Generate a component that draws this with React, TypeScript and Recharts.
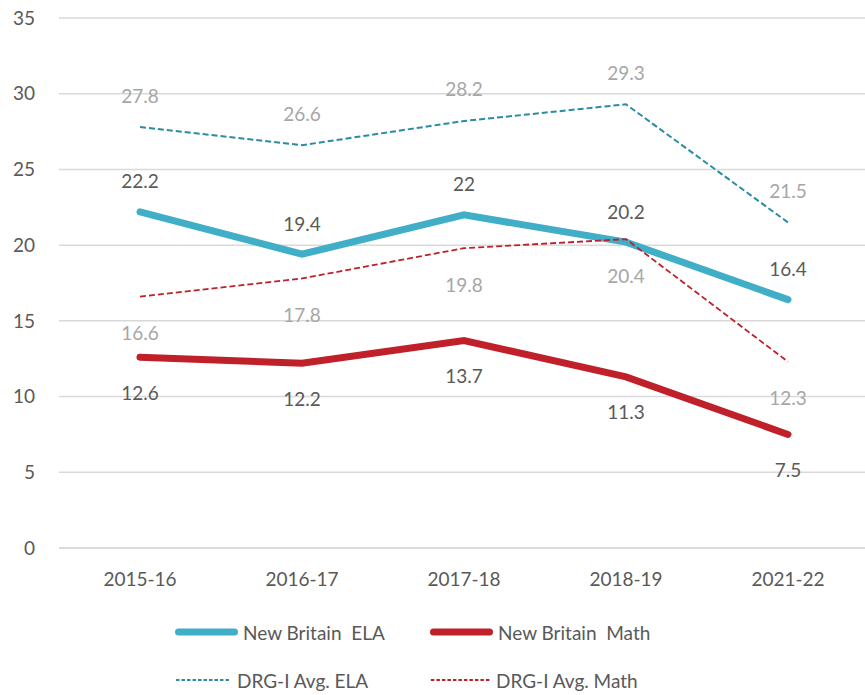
import React from "react"
import { LineChart, Line, XAxis, YAxis, CartesianGrid, LabelList } from "recharts"

const years = ["2015-16", "2016-17", "2017-18", "2018-19", "2021-22"]
const nbEla = [22.2, 19.4, 22, 20.2, 16.4]
const nbMath = [12.6, 12.2, 13.7, 11.3, 7.5]
const drgEla = [27.8, 26.6, 28.2, 29.3, 21.5]
const drgMath = [16.6, 17.8, 19.8, 20.4, 12.3]
const yTicks = [0, 5, 10, 15, 20, 25, 30, 35]

const FONT = "Lato, 'Open Sans', sans-serif"
const DARK = "#595959"
const LIGHT = "#A6A6A6"

const seriesConfig = [
  { key: "nbEla", name: "New Britain  ELA", color: "#41AEC8", width: 7, dash: undefined, labelColor: DARK, dy: -31 },
  { key: "nbMath", name: "New Britain  Math", color: "#C0202A", width: 7, dash: undefined, labelColor: DARK, dy: 35 },
  { key: "drgEla", name: "DRG-I Avg. ELA", color: "#2A8BA3", width: 2, dash: "6 3", labelColor: LIGHT, dy: -32 },
  { key: "drgMath", name: "DRG-I Avg. Math", color: "#C0202A", width: 1.8, dash: "6 3", labelColor: LIGHT, dy: 36 },
]

const chartData = years.map((year, i) => ({
  year,
  nbEla: nbEla[i],
  nbMath: nbMath[i],
  drgEla: drgEla[i],
  drgMath: drgMath[i],
}))

const makeLabel = (color: string, dy: number) => (props: any) => {
  const { x, y, value } = props
  return (
    <text x={x} y={y + dy} textAnchor="middle" dominantBaseline="central" fill={color} fontSize={19} fontFamily={FONT}>
      {value}
    </text>
  )
}

function ChartLegend() {
  const items = [
    { s: seriesConfig[0], x: 175, y: 632, len: 63 },
    { s: seriesConfig[1], x: 430, y: 632, len: 63 },
    { s: seriesConfig[2], x: 175, y: 680, len: 57 },
    { s: seriesConfig[3], x: 430, y: 680, len: 61 },
  ]
  return (
    <g>
      {items.map(({ s, x, y, len }) => (
        <g key={s.key}>
          <line
            x1={x + s.width / 2}
            y1={y}
            x2={x + len - s.width / 2}
            y2={y}
            stroke={s.color}
            strokeWidth={s.width}
            strokeDasharray={s.dash ? "3.5 2" : undefined}
            strokeLinecap={s.dash ? "butt" : "round"}
          />
          <text
            x={x + len + 5}
            y={y}
            dominantBaseline="central"
            fill={DARK}
            fontSize={19}
            fontFamily={FONT}
            style={{ whiteSpace: "pre" }}
          >
            {s.name}
          </text>
        </g>
      ))}
    </g>
  )
}

export default function App() {
  return (
    <div style={{ position: "fixed", left: 0, top: 0, width: 865, height: 695, background: "#fff", overflow: "hidden" }}>
      <LineChart width={869} height={695} data={chartData} margin={{ top: 18, right: 0, bottom: 117, left: 0 }}>
        <CartesianGrid vertical={false} stroke="#D9D9D9" strokeWidth={1.5} />
        <XAxis
          dataKey="year"
          padding={{ left: 81, right: 81 }}
          axisLine={{ stroke: "#D9D9D9", strokeWidth: 1.5 }}
          tickLine={false}
          tick={{ fill: DARK, fontSize: 19, fontFamily: FONT }}
          tickMargin={19}
          interval={0}
        />
        <YAxis
          domain={[0, 35]}
          ticks={yTicks}
          width={59}
          axisLine={false}
          tickLine={false}
          interval={0}
          tick={{ fill: DARK, fontSize: 19, fontFamily: FONT, textAnchor: "end", dx: -16 }}
        />
        {seriesConfig.map((s) => (
          <Line
            key={s.key}
            type="linear"
            dataKey={s.key}
            name={s.name}
            stroke={s.color}
            strokeWidth={s.width}
            strokeDasharray={s.dash}
            strokeLinecap={s.dash ? "butt" : "round"}
            dot={false}
            activeDot={false}
            isAnimationActive={false}
          >
            <LabelList dataKey={s.key} content={makeLabel(s.labelColor, s.dy)} />
          </Line>
        ))}
      </LineChart>
      <svg width={869} height={695} style={{ position: "absolute", left: 0, top: 0, pointerEvents: "none" }}>
        <ChartLegend />
      </svg>
    </div>
  )
}
